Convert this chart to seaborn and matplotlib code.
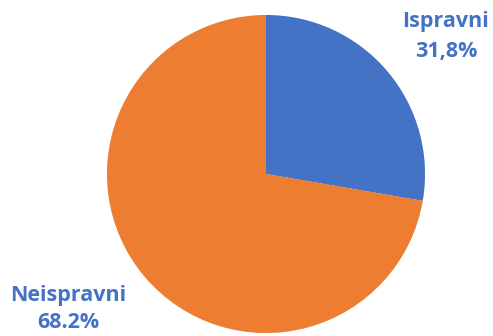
import matplotlib
matplotlib.use("Agg")
import matplotlib.pyplot as plt
import seaborn as sns
from matplotlib import patheffects as pe

sns.set_theme(style="white")
plt.rcParams['font.family'] = ['Open Sans', 'DejaVu Sans']

categories = ["Ispravni", "Neispravni"]
sizes = [27.7, 72.3]
value_labels = ["31,8%", "68.2%"]
colors = ["#4472C4", "#ED7D31"]

W, H = 493, 336
fig = plt.figure(figsize=(W / 100, H / 100), dpi=100)
cx, cy, r = 266, 174, 159
ax = fig.add_axes([(cx - r) / W, (H - cy - r) / H, 2 * r / W, 2 * r / H])
wedges, _ = ax.pie(sizes, colors=colors, startangle=90, counterclock=False,
                   wedgeprops=dict(linewidth=0))
for w in wedges:
    w.set_path_effects([pe.SimplePatchShadow(offset=(0, 0), shadow_rgbFace="#999999", alpha=0.25), pe.Normal()])
ax.set_xlim(-1.0, 1.0)
ax.set_ylim(-1.0, 1.0)
ax.set_aspect("equal")
ax.axis("off")

pos = [(446, 22, 52), (68, 295, 323)]
for cat, lab, col, (x, y1, y2) in zip(categories, value_labels, colors, pos):
    fig.text(x / W, 1 - y1 / H, cat, color="#4472C4", fontsize=15.5, fontweight="bold",
             ha="center", va="center")
    fig.text(x / W, 1 - y2 / H, lab, color="#4472C4", fontsize=15.5, fontweight="bold",
             ha="center", va="center")

fig.savefig("out.png", dpi=100, facecolor="white")
